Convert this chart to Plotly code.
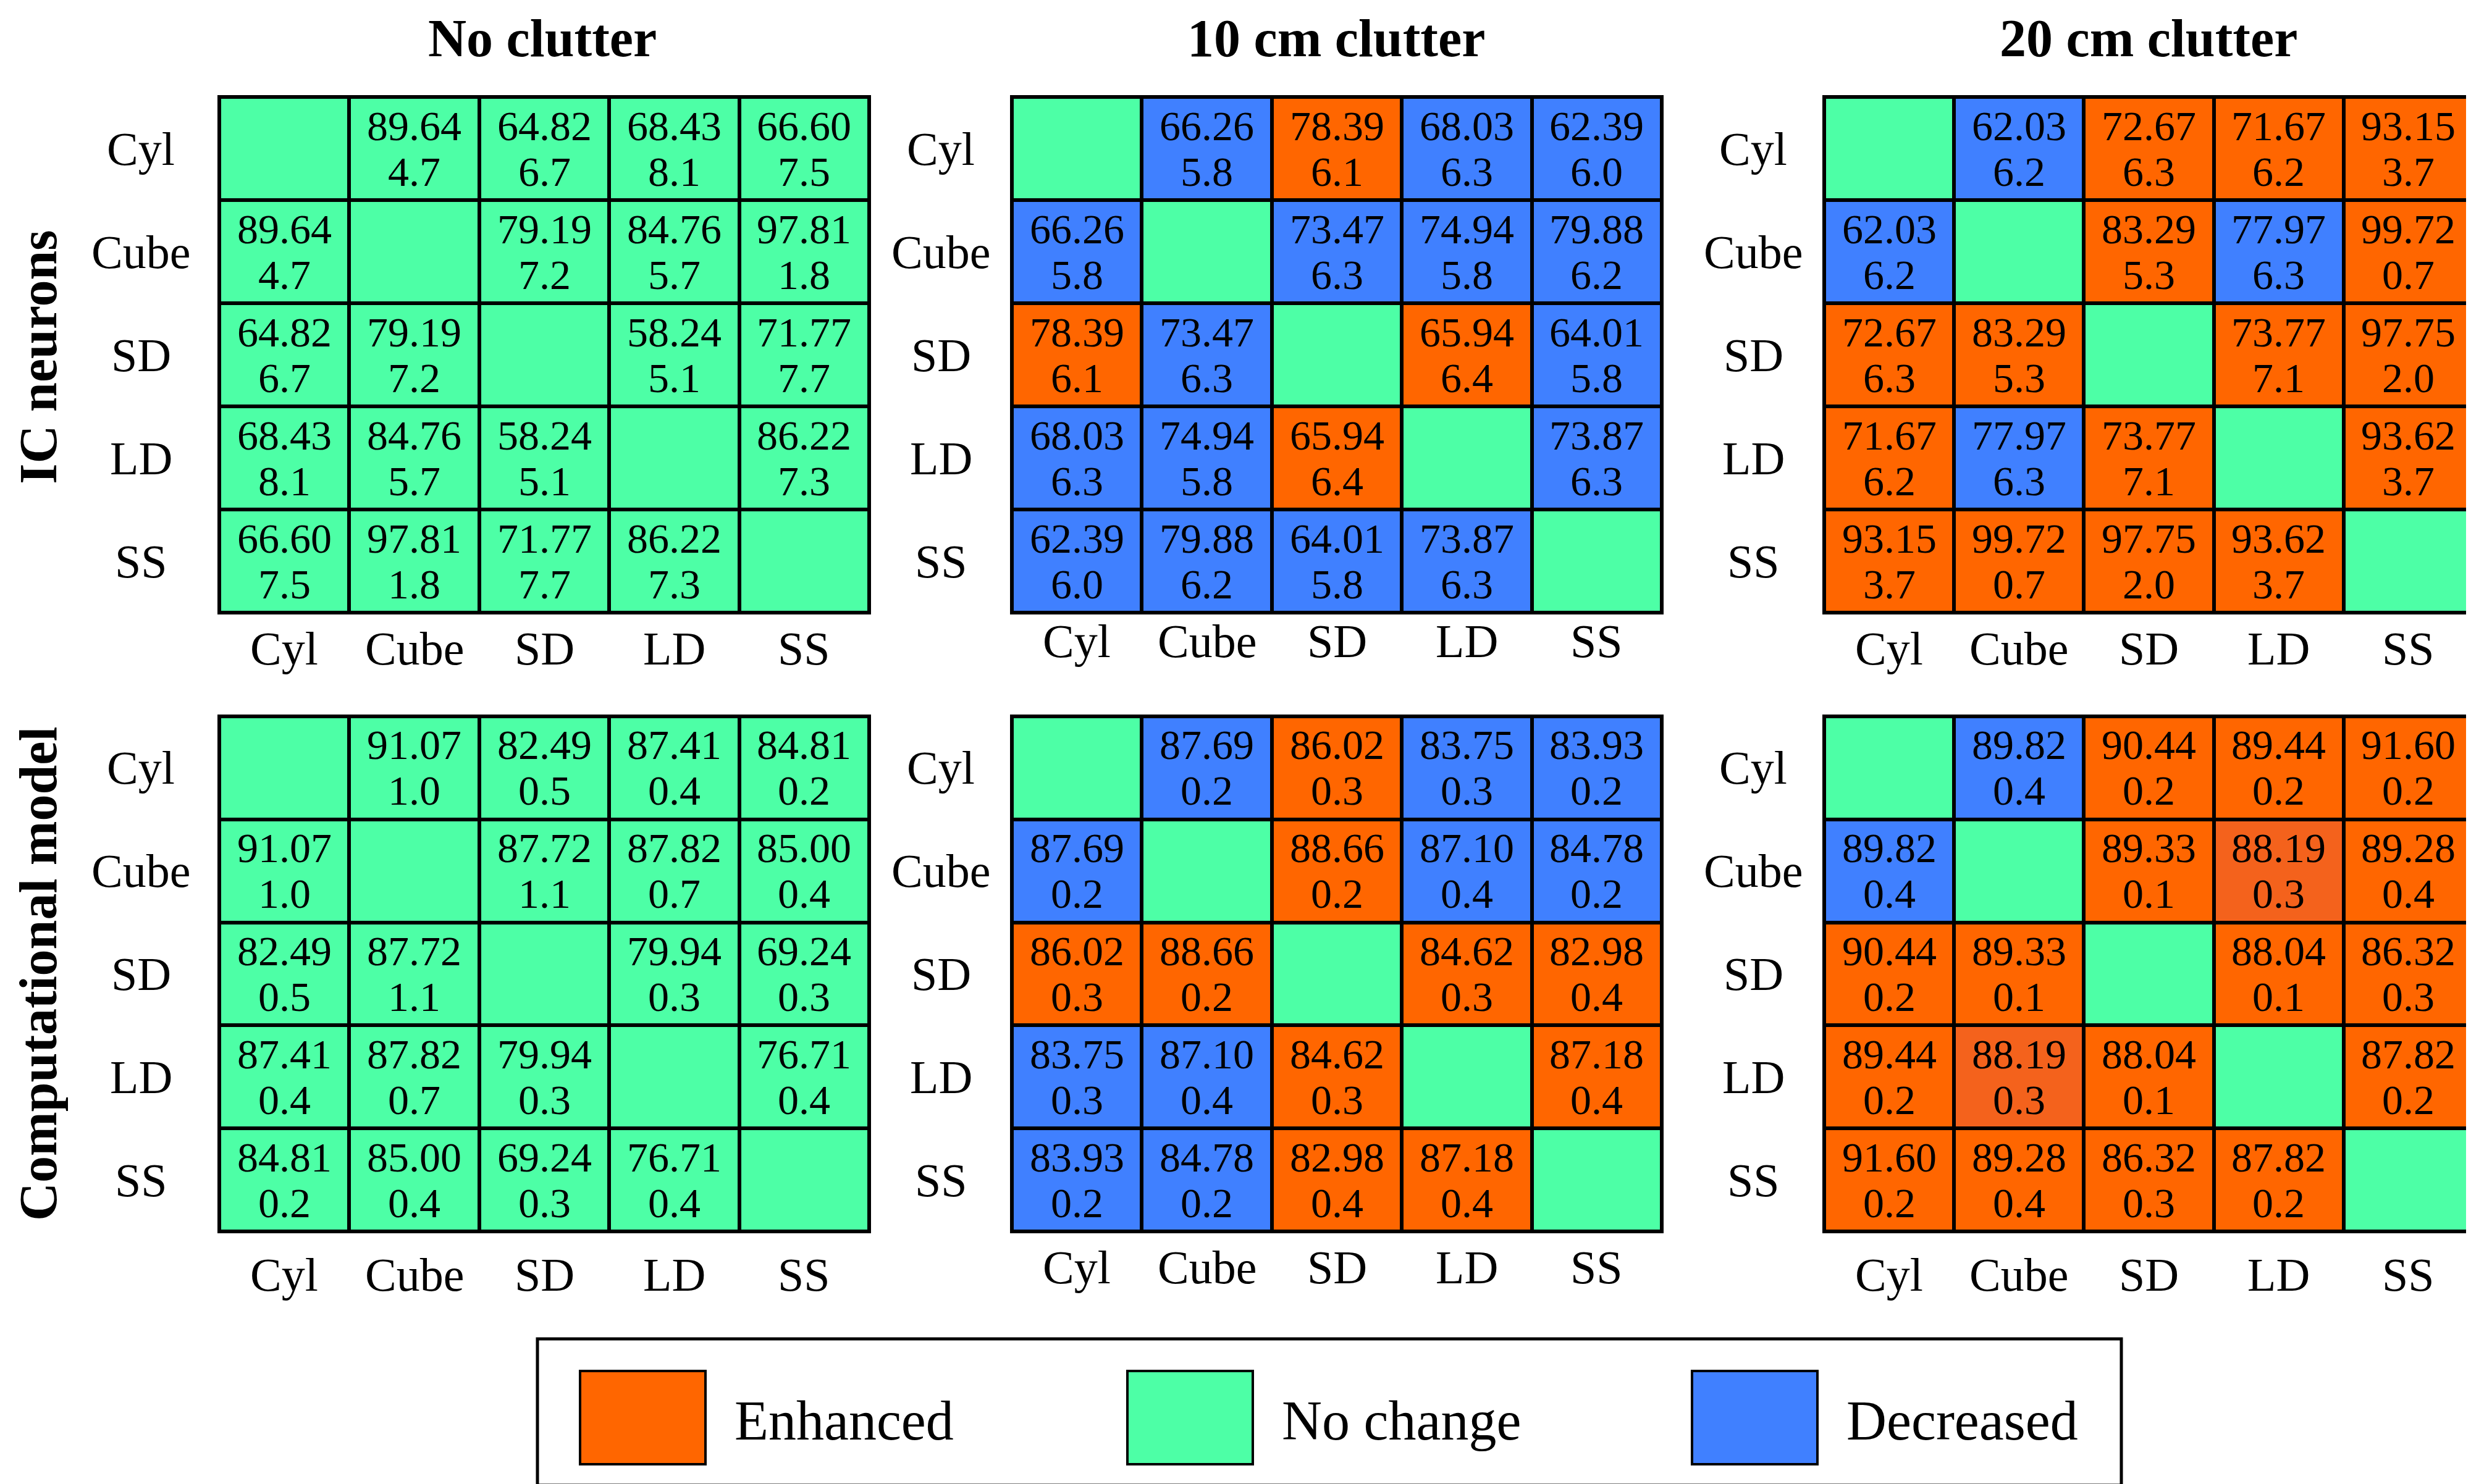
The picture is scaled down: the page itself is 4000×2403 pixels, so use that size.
import plotly.graph_objects as go
from plotly.subplots import make_subplots

W, H = 4000, 2403
FONT = "Liberation Serif"

shapes = ["Cyl", "Cube", "SD", "LD", "SS"]
col_titles = ["No clutter", "10 cm clutter", "20 cm clutter"]
row_titles = ["IC neurons", "Computational model"]
legend_labels = ["Enhanced", "No change", "Decreased"]

# status: E = enhanced, e = enhanced (lighter shade), N = no change, D = decreased
ic_none_mean = [[None, 89.64, 64.82, 68.43, 66.60],
                [89.64, None, 79.19, 84.76, 97.81],
                [64.82, 79.19, None, 58.24, 71.77],
                [68.43, 84.76, 58.24, None, 86.22],
                [66.60, 97.81, 71.77, 86.22, None]]
ic_none_sd = [[None, 4.7, 6.7, 8.1, 7.5],
              [4.7, None, 7.2, 5.7, 1.8],
              [6.7, 7.2, None, 5.1, 7.7],
              [8.1, 5.7, 5.1, None, 7.3],
              [7.5, 1.8, 7.7, 7.3, None]]
ic_none_status = ["NNNNN", "NNNNN", "NNNNN", "NNNNN", "NNNNN"]

ic_10_mean = [[None, 66.26, 78.39, 68.03, 62.39],
              [66.26, None, 73.47, 74.94, 79.88],
              [78.39, 73.47, None, 65.94, 64.01],
              [68.03, 74.94, 65.94, None, 73.87],
              [62.39, 79.88, 64.01, 73.87, None]]
ic_10_sd = [[None, 5.8, 6.1, 6.3, 6.0],
            [5.8, None, 6.3, 5.8, 6.2],
            [6.1, 6.3, None, 6.4, 5.8],
            [6.3, 5.8, 6.4, None, 6.3],
            [6.0, 6.2, 5.8, 6.3, None]]
ic_10_status = ["NDEDD", "DNDDD", "EDNED", "DDEND", "DDDDN"]

ic_20_mean = [[None, 62.03, 72.67, 71.67, 93.15],
              [62.03, None, 83.29, 77.97, 99.72],
              [72.67, 83.29, None, 73.77, 97.75],
              [71.67, 77.97, 73.77, None, 93.62],
              [93.15, 99.72, 97.75, 93.62, None]]
ic_20_sd = [[None, 6.2, 6.3, 6.2, 3.7],
            [6.2, None, 5.3, 6.3, 0.7],
            [6.3, 5.3, None, 7.1, 2.0],
            [6.2, 6.3, 7.1, None, 3.7],
            [3.7, 0.7, 2.0, 3.7, None]]
ic_20_status = ["NDEEE", "DNEDE", "EENEE", "EDENE", "EEEEN"]

cm_none_mean = [[None, 91.07, 82.49, 87.41, 84.81],
                [91.07, None, 87.72, 87.82, 85.00],
                [82.49, 87.72, None, 79.94, 69.24],
                [87.41, 87.82, 79.94, None, 76.71],
                [84.81, 85.00, 69.24, 76.71, None]]
cm_none_sd = [[None, 1.0, 0.5, 0.4, 0.2],
              [1.0, None, 1.1, 0.7, 0.4],
              [0.5, 1.1, None, 0.3, 0.3],
              [0.4, 0.7, 0.3, None, 0.4],
              [0.2, 0.4, 0.3, 0.4, None]]
cm_none_status = ["NNNNN", "NNNNN", "NNNNN", "NNNNN", "NNNNN"]

cm_10_mean = [[None, 87.69, 86.02, 83.75, 83.93],
              [87.69, None, 88.66, 87.10, 84.78],
              [86.02, 88.66, None, 84.62, 82.98],
              [83.75, 87.10, 84.62, None, 87.18],
              [83.93, 84.78, 82.98, 87.18, None]]
cm_10_sd = [[None, 0.2, 0.3, 0.3, 0.2],
            [0.2, None, 0.2, 0.4, 0.2],
            [0.3, 0.2, None, 0.3, 0.4],
            [0.3, 0.4, 0.3, None, 0.4],
            [0.2, 0.2, 0.4, 0.4, None]]
cm_10_status = ["NDEDD", "DNEDD", "EENEE", "DDENE", "DDEEN"]

cm_20_mean = [[None, 89.82, 90.44, 89.44, 91.60],
              [89.82, None, 89.33, 88.19, 89.28],
              [90.44, 89.33, None, 88.04, 86.32],
              [89.44, 88.19, 88.04, None, 87.82],
              [91.60, 89.28, 86.32, 87.82, None]]
cm_20_sd = [[None, 0.4, 0.2, 0.2, 0.2],
            [0.4, None, 0.1, 0.3, 0.4],
            [0.2, 0.1, None, 0.1, 0.3],
            [0.2, 0.3, 0.1, None, 0.2],
            [0.2, 0.4, 0.3, 0.2, None]]
cm_20_status = ["NDEEE", "DNEeE", "EENEE", "EeENE", "EEEEN"]

panels = [
    (ic_none_mean, ic_none_sd, ic_none_status),
    (ic_10_mean, ic_10_sd, ic_10_status),
    (ic_20_mean, ic_20_sd, ic_20_status),
    (cm_none_mean, cm_none_sd, cm_none_status),
    (cm_10_mean, cm_10_sd, cm_10_status),
    (cm_20_mean, cm_20_sd, cm_20_status),
]

codes = {"D": 0, "N": 1, "E": 2, "e": 3}
c_dec, c_none, c_enh, c_enh2 = "#4080FF", "#4DFFA6", "#FF6600", "#F4621C"
cscale = [[0, c_dec], [0.25, c_dec], [0.25, c_none], [0.5, c_none],
          [0.5, c_enh], [0.75, c_enh], [0.75, c_enh2], [1, c_enh2]]
legend_colors = [c_enh, c_none, c_dec]

# layout in pixels
x_dom = [(347, 1399), (1630, 2682), (2945, 3996)]
y_dom = [(149, 984), (1152, 1986)]
ylab_off = [127, 115, 115]
xlab_off = [[58, 46, 58], [70, 58, 70]]
NUM_SIZE = 68
NUM_SHIFT = 37
TICK_SIZE = 76

fig = make_subplots(rows=2, cols=3)
annotations = []
shapes_list = []

for k, (mean, sd, status) in enumerate(panels):
    r, c = divmod(k, 3)
    z = [[codes[ch] for ch in row] for row in status]
    fig.add_trace(go.Heatmap(
        z=z, x=shapes, y=shapes, colorscale=cscale, zmin=-0.5, zmax=3.5,
        showscale=False, xgap=6, ygap=6, hoverinfo="skip"), row=r + 1, col=c + 1)
    n = k + 1
    ax = "" if n == 1 else str(n)
    fig.update_layout({
        f"xaxis{ax}": dict(domain=[x_dom[c][0] / W, x_dom[c][1] / W], showticklabels=False,
                           showgrid=False, zeroline=False, fixedrange=True),
        f"yaxis{ax}": dict(domain=[1 - y_dom[r][1] / H, 1 - y_dom[r][0] / H], showticklabels=False,
                           showgrid=False, zeroline=False, autorange="reversed"),
    })
    shapes_list.append(dict(type="rect", xref=f"x{ax} domain", yref=f"y{ax} domain",
                            x0=0, x1=1, y0=0, y1=1, line=dict(color="black", width=6)))
    for i, yn in enumerate(shapes):
        for j, xn in enumerate(shapes):
            if mean[i][j] is None:
                continue
            annotations.append(dict(x=xn, y=yn, xref=f"x{ax}", yref=f"y{ax}",
                                    text=f"{mean[i][j]:.2f}", showarrow=False, yshift=NUM_SHIFT,
                                    xanchor="center", yanchor="middle",
                                    font=dict(family=FONT, size=NUM_SIZE, color="black")))
            annotations.append(dict(x=xn, y=yn, xref=f"x{ax}", yref=f"y{ax}",
                                    text=f"{sd[i][j]:.1f}", showarrow=False, yshift=-NUM_SHIFT,
                                    xanchor="center", yanchor="middle",
                                    font=dict(family=FONT, size=NUM_SIZE, color="black")))
    for name in shapes:
        annotations.append(dict(x=0, y=name, xref=f"x{ax} domain", yref=f"y{ax}",
                                xshift=-ylab_off[c], text=name, showarrow=False,
                                xanchor="center", yanchor="middle",
                                font=dict(family=FONT, size=TICK_SIZE, color="black")))
        annotations.append(dict(x=name, y=0, xref=f"x{ax}", yref=f"y{ax} domain",
                                yshift=-xlab_off[r][c], text=name, showarrow=False,
                                xanchor="center", yanchor="middle",
                                font=dict(family=FONT, size=TICK_SIZE, color="black")))

# column and row titles
title_x = [870, 2155, 3470]
for t, xc in zip(col_titles, title_x):
    annotations.append(dict(x=xc / W, y=1 - 4 / H, xref="paper", yref="paper", text=f"<b>{t}</b>",
                            showarrow=False, xanchor="center", yanchor="top",
                            font=dict(family=FONT, size=86, color="black")))
row_y = [570, 1569]
for t, yc in zip(row_titles, row_y):
    annotations.append(dict(x=4 / W, y=1 - yc / H, xref="paper", yref="paper", text=f"<b>{t}</b>",
                            showarrow=False, textangle=-90, xanchor="left", yanchor="middle",
                            font=dict(family=FONT, size=86, color="black")))

# legend box
shapes_list.append(dict(type="rect", xref="paper", yref="paper", x0=862 / W, x1=3426 / W,
                        y0=1 - 2397 / H, y1=1 - 2160 / H, line=dict(color="black", width=5)))
sw_x = [931, 1817, 2731]
for lab, col, sx in zip(legend_labels, legend_colors, sw_x):
    shapes_list.append(dict(type="rect", xref="paper", yref="paper", x0=sx / W, x1=(sx + 203) / W,
                            y0=1 - 2363 / H, y1=1 - 2212 / H, fillcolor=col,
                            line=dict(color="black", width=4)))
    annotations.append(dict(x=(sx + 248) / W, y=1 - 2292 / H, xref="paper", yref="paper",
                            text=lab, showarrow=False, xanchor="left", yanchor="middle",
                            font=dict(family=FONT, size=90, color="black")))

fig.update_layout(width=W, height=H, margin=dict(l=0, r=0, t=0, b=0),
                  paper_bgcolor="white", plot_bgcolor="black",
                  annotations=annotations, shapes=shapes_list, showlegend=False)

fig.write_html("out.html")
